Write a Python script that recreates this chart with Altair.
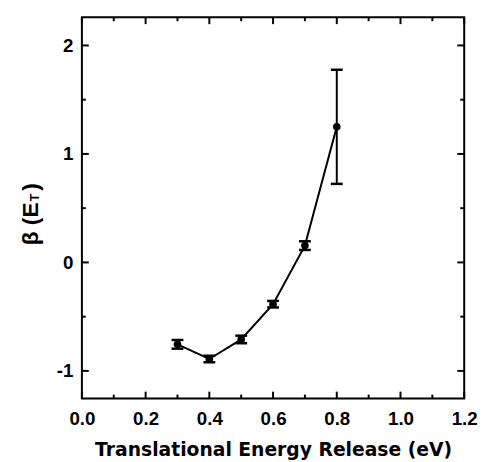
import altair as alt
import pandas as pd

# ---- data ----
energy = [0.3, 0.4, 0.5, 0.6, 0.7, 0.8]
beta = [-0.755, -0.89, -0.71, -0.385, 0.155, 1.25]
beta_err = [0.04, 0.03, 0.035, 0.03, 0.04, 0.526]

x_major = [0.0, 0.2, 0.4, 0.6, 0.8, 1.0, 1.2]
x_minor = [0.1, 0.3, 0.5, 0.7, 0.9, 1.1]
y_major = [-1, 0, 1, 2]
y_minor = [-0.5, 0.5, 1.5]

x_title = "Translational Energy Release (eV)"
y_title_parts = ["β (E", "T", ")"]

W, H = 388, 387
FONT = "Liberation Sans"

df = pd.DataFrame({"E": energy, "b": beta, "err": beta_err})
df["lo"] = df["b"] - df["err"]
df["hi"] = df["b"] + df["err"]

xs = alt.Scale(domain=[0, 1.2], nice=False, zero=False)
ys = alt.Scale(domain=[-1.255, 2.26], nice=False, zero=False)

base = alt.Chart(df)

line = base.mark_line(color="black", strokeWidth=2).encode(
    x=alt.X("E:Q", scale=xs,
            axis=alt.Axis(values=x_major, format=".1f", title=x_title,
                          labelPadding=11, titlePadding=13, labelFlush=False,
                          titleFont="DejaVu Sans", titleFontSize=19)),
    y=alt.Y("b:Q", scale=ys,
            axis=alt.Axis(values=y_major, labelExpr="'' + datum.value", title="",
                          labelPadding=9, labelFlush=False)),
)
pts = base.mark_circle(color="black", size=60, opacity=1).encode(
    x="E:Q", y="b:Q")
bars = base.mark_rule(color="black", strokeWidth=2).encode(
    x="E:Q", y="lo:Q", y2="hi:Q")
caps = base.transform_fold(["lo", "hi"], as_=["k", "v"]).mark_tick(
    color="black", orient="horizontal", size=12, thickness=2.5, opacity=1
).encode(x="E:Q", y="v:Q")


def yticks(vals, length):
    d = alt.Chart(pd.DataFrame({"v": vals}))
    left = d.mark_rule(color="black", strokeWidth=2).encode(
        y="v:Q", x=alt.value(0), x2=alt.value(length))
    right = d.mark_rule(color="black", strokeWidth=2).encode(
        y="v:Q", x=alt.value(W - length), x2=alt.value(W))
    return [left, right]


def xticks(vals, length):
    d = alt.Chart(pd.DataFrame({"v": vals}))
    bottom = d.mark_rule(color="black", strokeWidth=2).encode(
        x="v:Q", y=alt.value(H - length), y2=alt.value(H))
    top = d.mark_rule(color="black", strokeWidth=2).encode(
        x="v:Q", y=alt.value(0), y2=alt.value(length))
    return [bottom, top]


tick_layers = yticks(y_major, 7) + yticks(y_minor, 4) + xticks(x_major, 7) + xticks(x_minor, 4)

one = alt.Chart(pd.DataFrame({"a": [0]}))
t1 = one.mark_text(angle=270, align="right", baseline="alphabetic", font=FONT,
                   fontWeight="bold", fontSize=23, color="black").encode(
    x=alt.value(-45), y=alt.value(188), text=alt.value(y_title_parts[0]))
t2 = one.mark_text(angle=270, align="left", baseline="alphabetic", font=FONT,
                   fontWeight="bold", fontSize=13, color="black").encode(
    x=alt.value(-44), y=alt.value(187), text=alt.value(y_title_parts[1]))
t3 = one.mark_text(angle=270, align="left", baseline="alphabetic", font=FONT,
                   fontWeight="bold", fontSize=23, color="black").encode(
    x=alt.value(-45), y=alt.value(176), text=alt.value(y_title_parts[2]))

chart = alt.layer(line, bars, caps, pts, *tick_layers, t1, t2, t3).properties(
    width=W, height=H,
    autosize=alt.AutoSizeParams(type="none"),
    padding={"left": 75, "top": 6, "right": 14, "bottom": 61},
).configure_view(stroke="black", strokeWidth=2).configure_axis(
    domain=False, ticks=False, grid=False,
    labelFont=FONT, labelFontWeight="bold", labelFontSize=19, labelColor="black",
    titleFont=FONT, titleFontWeight="bold", titleFontSize=18, titleColor="black",
)

chart.save("out.html", embed_options={"renderer": "svg", "actions": False})
